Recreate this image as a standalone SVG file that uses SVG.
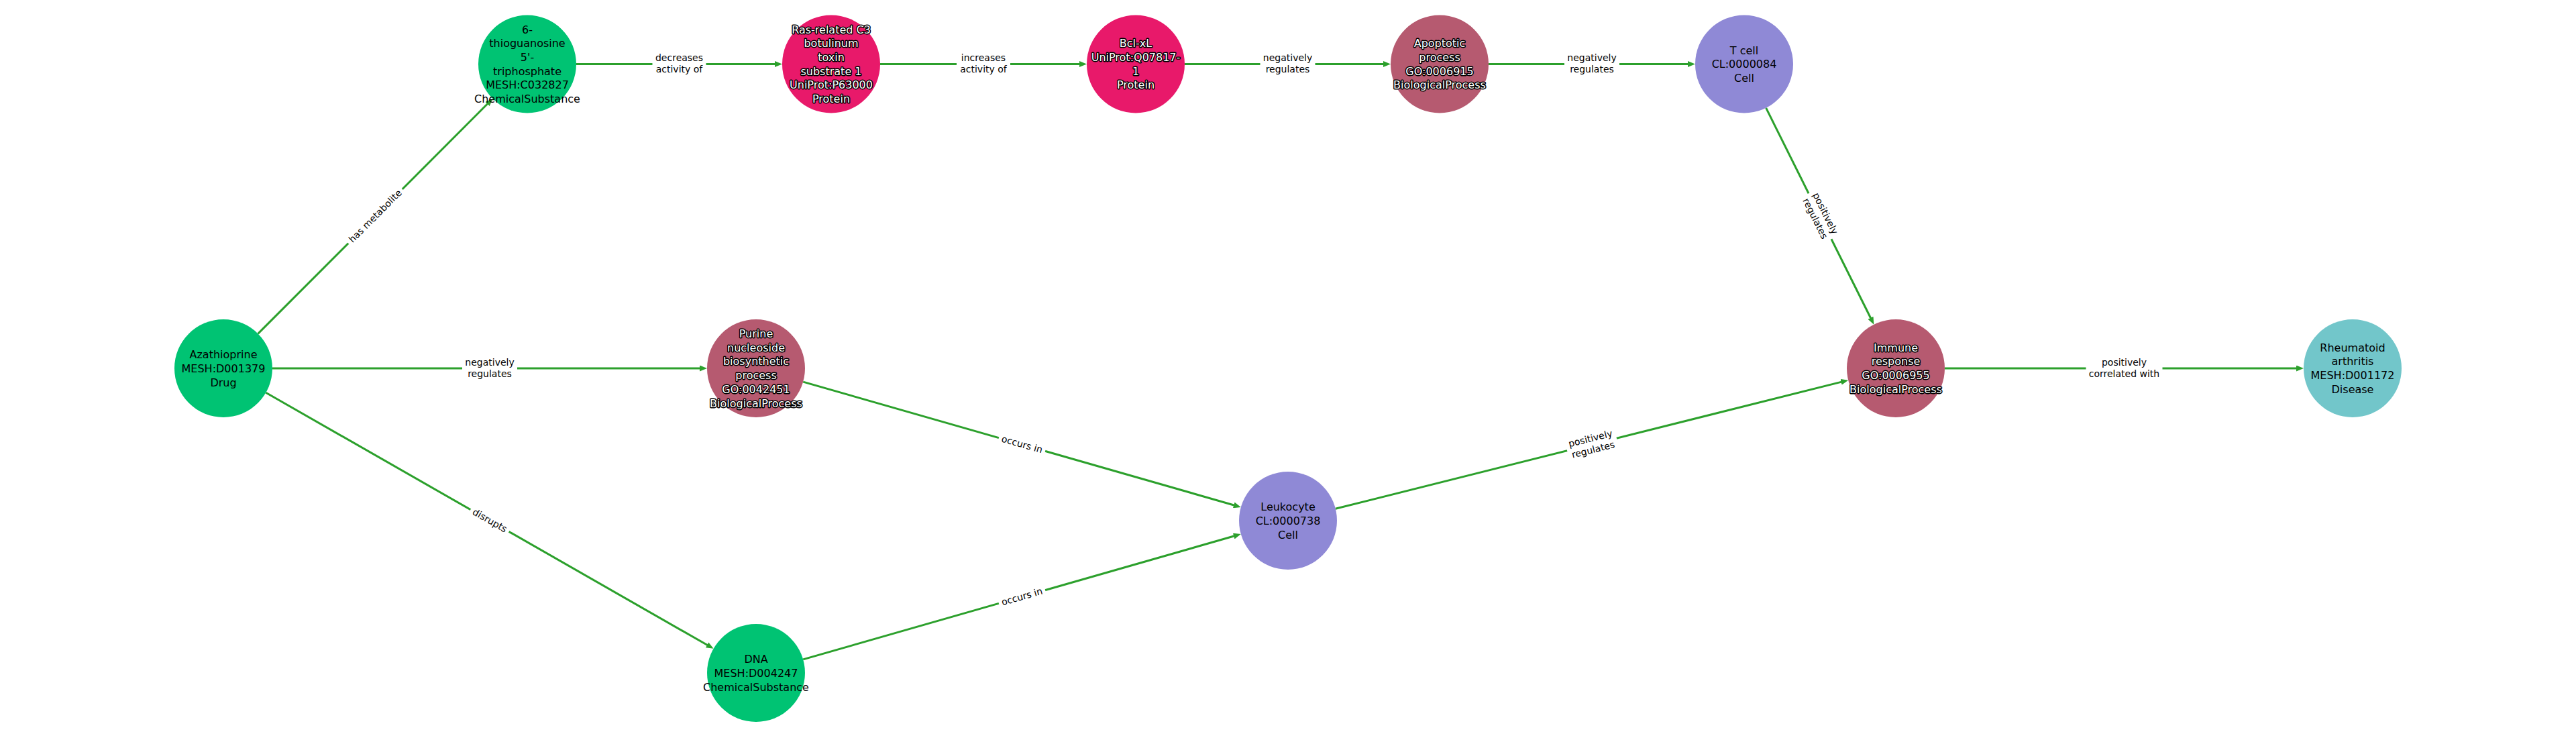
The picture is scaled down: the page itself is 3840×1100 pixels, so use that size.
<svg xmlns="http://www.w3.org/2000/svg" width="3840" height="1100" viewBox="0 0 3840 1100">
<style>
.edge{stroke:#2ca02c;stroke-width:3;fill:none;marker-end:url(#arr)}
.lbox{fill:#fff;stroke:none}
.ltxt{font-family:"DejaVu Sans",sans-serif;font-size:14px;fill:#000;text-anchor:middle}
.ntxt{font-family:"DejaVu Sans",sans-serif;font-size:16px;fill:#000;text-anchor:middle}
.otxt{font-family:"DejaVu Sans",sans-serif;font-size:16px;fill:#fff;stroke:#000;stroke-width:3;stroke-linejoin:round;paint-order:stroke;text-anchor:middle}
.chem{fill:#00c373}
.prot{fill:#e8196a}
.bio{fill:#b65a70}
.cell{fill:#8f89d6}
.dis{fill:#72c6ca}
</style>
<defs>
<marker id="arr" markerUnits="userSpaceOnUse" markerWidth="11" markerHeight="9" refX="3" refY="4.5" orient="auto">
<path d="M0,0 L11,4.5 L0,9 z" fill="#2ca02c"/>
</marker>
</defs>
<rect width="3840" height="1100" fill="#fff"/>
<g id="connectors">
<line class="edge" x1="384.6" y1="497.4" x2="728.7" y2="152.8"/>
<line class="edge" x1="406" y1="549" x2="1046" y2="549"/>
<line class="edge" x1="396.4" y1="585.2" x2="1056.7" y2="962.8"/>
<line class="edge" x1="859" y1="95.5" x2="1158" y2="95.5"/>
<line class="edge" x1="1312" y1="95.5" x2="1612" y2="95.5"/>
<line class="edge" x1="1766" y1="95.5" x2="2065" y2="95.5"/>
<line class="edge" x1="2219" y1="95.5" x2="2519" y2="95.5"/>
<line class="edge" x1="2632.6" y1="160.8" x2="2789.8" y2="476.5"/>
<line class="edge" x1="1197.2" y1="569.1" x2="1842.1" y2="753.7"/>
<line class="edge" x1="1197.2" y1="982.9" x2="1842.1" y2="798.3"/>
<line class="edge" x1="1990.8" y1="758.3" x2="2747.4" y2="568.6"/>
<line class="edge" x1="2899" y1="549" x2="3426" y2="549"/>
<g transform="translate(559.5,322.3) rotate(-45.03)"><rect class="lbox" x="-57" y="-10" width="114" height="22" rx="4"/><text class="ltxt" y="4.5">has metabolite</text></g>
<g transform="translate(730,549)"><rect class="lbox" x="-41" y="-19" width="82" height="39" rx="4"/><text class="ltxt" y="-4.3">negatively</text><text class="ltxt" y="12.7">regulates</text></g>
<g transform="translate(730,776) rotate(29.76)"><rect class="lbox" x="-33" y="-10" width="66" height="22" rx="4"/><text class="ltxt" y="4.5">disrupts</text></g>
<g transform="translate(1012.5,95.5)"><rect class="lbox" x="-40" y="-19" width="80" height="39" rx="4"/><text class="ltxt" y="-4.3">decreases</text><text class="ltxt" y="12.7">activity of</text></g>
<g transform="translate(1466,95.5)"><rect class="lbox" x="-40" y="-19" width="80" height="39" rx="4"/><text class="ltxt" y="-4.3">increases</text><text class="ltxt" y="12.7">activity of</text></g>
<g transform="translate(1919.5,95.5)"><rect class="lbox" x="-41" y="-19" width="82" height="39" rx="4"/><text class="ltxt" y="-4.3">negatively</text><text class="ltxt" y="12.7">regulates</text></g>
<g transform="translate(2373,95.5)"><rect class="lbox" x="-41" y="-19" width="82" height="39" rx="4"/><text class="ltxt" y="-4.3">negatively</text><text class="ltxt" y="12.7">regulates</text></g>
<g transform="translate(2713,322.3) rotate(63.51)"><rect class="lbox" x="-38" y="-19" width="76" height="39" rx="4"/><text class="ltxt" y="-4.3">positively</text><text class="ltxt" y="12.7">regulates</text></g>
<g transform="translate(1523.5,662.5) rotate(15.97)"><rect class="lbox" x="-36" y="-10" width="72" height="22" rx="4"/><text class="ltxt" y="4.5">occurs in</text></g>
<g transform="translate(1523.5,889.5) rotate(-15.97)"><rect class="lbox" x="-36" y="-10" width="72" height="22" rx="4"/><text class="ltxt" y="4.5">occurs in</text></g>
<g transform="translate(2373,662.5) rotate(-14.07)"><rect class="lbox" x="-38" y="-19" width="76" height="39" rx="4"/><text class="ltxt" y="-4.3">positively</text><text class="ltxt" y="12.7">regulates</text></g>
<g transform="translate(3166.5,549)"><rect class="lbox" x="-57" y="-19" width="114" height="39" rx="4"/><text class="ltxt" y="-4.3">positively</text><text class="ltxt" y="12.7">correlated with</text></g>
</g>
<g id="azathioprine"><circle class="chem" cx="333" cy="549" r="73"/><text class="ntxt" x="333" y="534.1">Azathioprine</text><text class="ntxt" x="333" y="554.8">MESH:D001379</text><text class="ntxt" x="333" y="575.5">Drug</text></g>
<g id="thioguanosine"><circle class="chem" cx="786" cy="95.5" r="73"/><text class="ntxt" x="786" y="49.5">6-</text><text class="ntxt" x="786" y="70.2">thioguanosine</text><text class="ntxt" x="786" y="90.9">5'-</text><text class="ntxt" x="786" y="111.6">triphosphate</text><text class="ntxt" x="786" y="132.3">MESH:C032827</text><text class="ntxt" x="786" y="153">ChemicalSubstance</text></g>
<g id="ras"><circle class="prot" cx="1239" cy="95.5" r="73"/><text class="otxt" x="1239" y="49.5">Ras-related C3</text><text class="otxt" x="1239" y="70.2">botulinum</text><text class="otxt" x="1239" y="90.9">toxin</text><text class="otxt" x="1239" y="111.6">substrate 1</text><text class="otxt" x="1239" y="132.3">UniProt:P63000</text><text class="otxt" x="1239" y="153">Protein</text></g>
<g id="bclxl"><circle class="prot" cx="1693" cy="95.5" r="73"/><text class="otxt" x="1693" y="70.2">Bcl-xL</text><text class="otxt" x="1693" y="90.9">UniProt:Q07817-</text><text class="otxt" x="1693" y="111.6">1</text><text class="otxt" x="1693" y="132.3">Protein</text></g>
<g id="apoptotic"><circle class="bio" cx="2146" cy="95.5" r="73"/><text class="otxt" x="2146" y="70.2">Apoptotic</text><text class="otxt" x="2146" y="90.9">process</text><text class="otxt" x="2146" y="111.6">GO:0006915</text><text class="otxt" x="2146" y="132.3">BiologicalProcess</text></g>
<g id="tcell"><circle class="cell" cx="2600" cy="95.5" r="73"/><text class="ntxt" x="2600" y="80.6">T cell</text><text class="ntxt" x="2600" y="101.3">CL:0000084</text><text class="ntxt" x="2600" y="122">Cell</text></g>
<g id="purine"><circle class="bio" cx="1127" cy="549" r="73"/><text class="otxt" x="1127" y="503">Purine</text><text class="otxt" x="1127" y="523.7">nucleoside</text><text class="otxt" x="1127" y="544.4">biosynthetic</text><text class="otxt" x="1127" y="565.1">process</text><text class="otxt" x="1127" y="585.8">GO:0042451</text><text class="otxt" x="1127" y="606.5">BiologicalProcess</text></g>
<g id="immune"><circle class="bio" cx="2826" cy="549" r="73"/><text class="otxt" x="2826" y="523.7">Immune</text><text class="otxt" x="2826" y="544.4">response</text><text class="otxt" x="2826" y="565.1">GO:0006955</text><text class="otxt" x="2826" y="585.8">BiologicalProcess</text></g>
<g id="rheumatoid"><circle class="dis" cx="3507" cy="549" r="73"/><text class="ntxt" x="3507" y="523.7">Rheumatoid</text><text class="ntxt" x="3507" y="544.4">arthritis</text><text class="ntxt" x="3507" y="565.1">MESH:D001172</text><text class="ntxt" x="3507" y="585.8">Disease</text></g>
<g id="leukocyte"><circle class="cell" cx="1920" cy="776" r="73"/><text class="ntxt" x="1920" y="761.1">Leukocyte</text><text class="ntxt" x="1920" y="781.8">CL:0000738</text><text class="ntxt" x="1920" y="802.5">Cell</text></g>
<g id="dna"><circle class="chem" cx="1127" cy="1003" r="73"/><text class="ntxt" x="1127" y="988.1">DNA</text><text class="ntxt" x="1127" y="1008.8">MESH:D004247</text><text class="ntxt" x="1127" y="1029.5">ChemicalSubstance</text></g>
</svg>
